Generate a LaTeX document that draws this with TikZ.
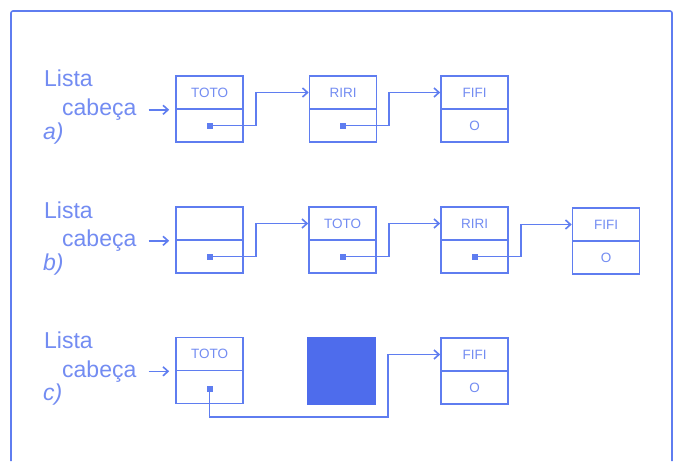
\documentclass[tikz,border=0pt]{standalone}
\usepackage{fontspec}
\setmainfont{Liberation Sans}
\usetikzlibrary{arrows.meta}
\definecolor{ln}{RGB}{95,125,240}
\definecolor{tx}{RGB}{115,140,242}
\definecolor{fl}{RGB}{78,108,236}
\tikzset{
  cell/.style={draw=ln, line width=1.6pt, minimum width=67pt, minimum height=33pt, inner sep=0pt,
    text=tx, font=\fontsize{13.5}{13.5}\selectfont},
  link/.style={draw=ln, line width=1.6pt, -{Straight Barb[length=5pt,width=9pt]}},
  lbl/.style={text=tx, font=\fontsize{23}{23}\selectfont, inner sep=0pt, anchor=base west},
  dotm/.style={fill=ln, minimum size=6pt, inner sep=0pt},
  frame/.style={draw=ln, line width=1.6pt}
}
\begin{document}
\begin{tikzpicture}[x=1pt,y=-1pt]
\useasboundingbox (0,0) rectangle (676,461);
\fill[white] (0,0) rectangle (676,461);
\draw[frame, rounded corners=2pt] (11,461) -- (11,11) -- (672,11) -- (672,461);

% ---- row a
\node[lbl] (alista) at (44,86) {Lista};
\node[lbl] (acab) at (62,115) {cabeça};
\node[lbl, font=\fontsize{23}{23}\selectfont\itshape] (alet) at (43,139) {a)};
\node[cell] (a1t) at (209.5,92.5) {TOTO};
\node[cell] (a1b) at (209.5,125.5) {};
\node[cell] (a2t) at (343,92.5) {RIRI};
\node[cell] (a2b) at (343,125.5) {};
\node[cell] (a3t) at (474.5,92.5) {FIFI};
\node[cell] (a3b) at (474.5,125.5) {O};
\node[dotm] (a1d) at (a1b.center) {};
\node[dotm] (a2d) at (a2b.center) {};
\draw[link, shorten <=12pt, shorten >=6pt] (acab.east |- a1t.south west) -- (a1t.south west);
\draw[link] (a1d.center) -- ++(46.5,0) |- (a2t.west);
\draw[link] (a2d.center) -- ++(46,0) |- (a3t.west);

% ---- row b
\node[lbl] (blista) at (44,218) {Lista};
\node[lbl] (bcab) at (62,246) {cabeça};
\node[lbl, font=\fontsize{23}{23}\selectfont\itshape] (blet) at (43,270) {b)};
\node[cell] (b1t) at (209.5,223.5) {};
\node[cell] (b1b) at (209.5,256.5) {};
\node[cell] (b2t) at (342.5,223.5) {TOTO};
\node[cell] (b2b) at (342.5,256.5) {};
\node[cell] (b3t) at (474.5,223.5) {RIRI};
\node[cell] (b3b) at (474.5,256.5) {};
\node[cell] (b4t) at (606,224.5) {FIFI};
\node[cell] (b4b) at (606,257.5) {O};
\node[dotm] (b1d) at (b1b.center) {};
\node[dotm] (b2d) at (b2b.center) {};
\node[dotm] (b3d) at (b3b.center) {};
\draw[link, shorten <=12pt, shorten >=6pt] (bcab.east |- b1t.south west) -- (b1t.south west);
\draw[link] (b1d.center) -- ++(46.5,0) |- (b2t.west);
\draw[link] (b2d.center) -- ++(46.5,0) |- (b3t.west);
\draw[link] (b3d.center) -- ++(46.5,0) |- (b4t.west);

% ---- row c
\node[lbl] (clista) at (44,348) {Lista};
\node[lbl] (ccab) at (62,377) {cabeça};
\node[lbl, font=\fontsize{23}{23}\selectfont\itshape] (clet) at (43,400) {c)};
\node[cell] (c1t) at (209.5,354) {TOTO};
\node[cell] (c1b) at (209.5,387) {};
\node[fill=fl, minimum width=69pt, minimum height=68pt, inner sep=0pt] (c2) at (341.5,371) {};
\node[cell] (c3t) at (474.5,354.5) {FIFI};
\node[cell] (c3b) at (474.5,387.5) {O};
\node[dotm] (c1d) at (209.5,389) {};
\coordinate (cbend) at (388,417);
\draw[link, shorten <=12pt, shorten >=6pt] (ccab.east |- c1t.south west) -- (c1t.south west);
\draw[link] (c1d.center) |- (cbend) |- (c3t.west);
\end{tikzpicture}
\end{document}
